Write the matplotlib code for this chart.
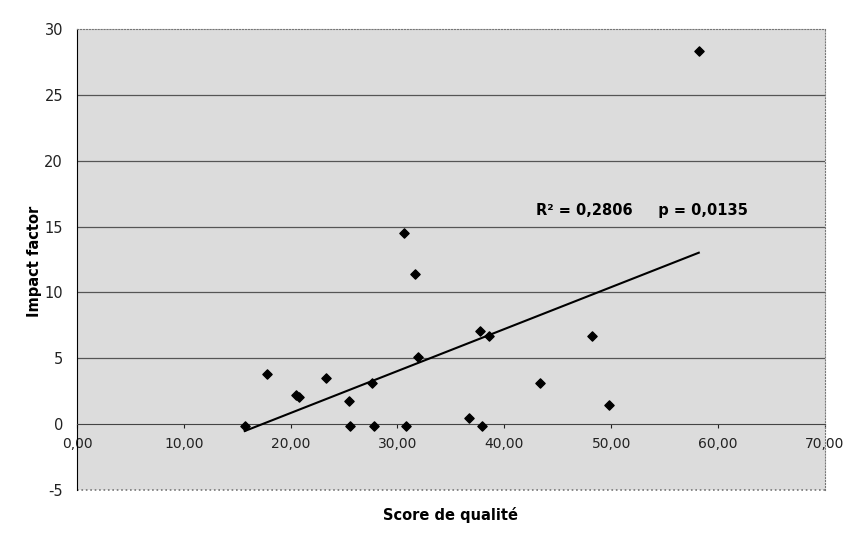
import matplotlib.pyplot as plt
import numpy as np

# score de qualité vs impact factor
score = [15.7, 17.8, 20.5, 20.8, 23.3, 25.5, 25.6, 27.6, 27.8, 30.8, 30.6,
         31.6, 31.9, 37.7, 38.6, 36.7, 37.9, 43.3, 48.2, 49.8, 58.2]
impact = [-0.1, 3.8, 2.2, 2.05, 3.5, 1.75, -0.1, 3.1, -0.1, -0.1, 14.5,
          11.4, 5.1, 7.1, 6.7, 0.5, -0.1, 3.1, 6.7, 1.45, 28.3]

x_ticks = [0, 10, 20, 30, 40, 50, 60, 70]
y_ticks = [-5, 0, 5, 10, 15, 20, 25, 30]
stats_text = "R² = 0,2806     p = 0,0135"

fig = plt.figure(figsize=(8.46, 5.34), dpi=100)
ax = fig.add_axes([0.091, 0.082, 0.884, 0.864])
ax.set_facecolor('#dcdcdc')

ax.set_xlim(0, 70)
ax.set_ylim(-5, 30)
ax.set_xticks(x_ticks)
ax.set_yticks(y_ticks)
ax.set_xticklabels([f"{t:.2f}".replace('.', ',') for t in x_ticks], fontsize=10.5)
ax.set_yticklabels([str(t) for t in y_ticks], fontsize=10.5)

for yv in [5, 10, 15, 20, 25]:
    ax.axhline(yv, color='#555555', lw=0.9, zorder=1)
ax.axhline(-5, color='#777777', lw=1.2, ls=':', zorder=1, clip_on=False)

ax.spines['bottom'].set_position(('data', 0))
ax.spines['bottom'].set_color('#444444')
ax.spines['left'].set_color('black')
for s in ['top', 'right']:
    ax.spines[s].set_linestyle(':')
    ax.spines[s].set_color('#777777')
ax.tick_params(axis='x', direction='out', length=3, pad=6, colors='#222222')
ax.tick_params(axis='y', length=0, pad=10, colors='#222222')

# linear trend, as Excel drew it
coef = np.polyfit(score, impact, 1)
xs = np.array([min(score), max(score)])
ax.plot(xs, np.polyval(coef, xs), color='black', lw=1.5, zorder=3)

ax.scatter(score, impact, marker='D', s=22, color='black', zorder=4)

ax.text(43.0, 16.2, stats_text, fontsize=10.5, fontweight='bold', va='center')

fig.text(0.041, 0.51, "Impact factor", rotation=90, fontsize=10.5,
         fontweight='bold', ha='center', va='center')
fig.text(0.533, 0.035, "Score de qualité", fontsize=10.5,
         fontweight='bold', ha='center', va='center')

fig.savefig("out.png", dpi=100)
